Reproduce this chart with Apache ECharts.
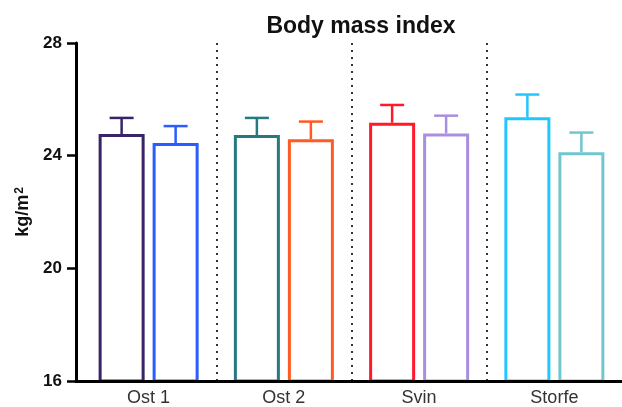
<!DOCTYPE html>
<html>
<head>
<meta charset="utf-8">
<script src="https://cdn.jsdelivr.net/npm/echarts@6/dist/echarts.min.js"></script>
<style>html,body{margin:0;padding:0;background:#fff;}#c{width:622px;height:407px;}</style>
</head>
<body>
<div id="c"></div>
<script>
var categories = ['Ost 1', 'Ost 2', 'Svin', 'Storfe'];
var meansA = [24.77, 24.73, 25.17, 25.36];
var errA = [25.34, 25.34, 25.80, 26.17];
var meansB = [24.45, 24.58, 24.79, 24.12];
var errB = [25.05, 25.21, 25.42, 24.82];
var colorsA = ['#3a2468', '#26797e', '#ff1a2a', '#22c6ff'];
var colorsB = ['#2a5cff', '#ff5a22', '#a98ee0', '#72c6d0'];
var yTicks = [16, 20, 24, 28];

var BAR_W = 46, GAP = 8;
var OFF = (BAR_W + GAP) / 2;
var FONT = 'Liberation Sans, Arial, sans-serif';

function barData(means, colors) {
  return means.map(function (v, i) {
    return { value: v, itemStyle: { color: '#fff', borderColor: colors[i], borderWidth: 3 } };
  });
}
function errData(means, errs) {
  return means.map(function (v, i) { return [i, v, errs[i]]; });
}
function errSeries(means, errs, colors, sign) {
  return {
    type: 'custom',
    data: errData(means, errs),
    z: 1,
    renderItem: function (params, api) {
      var i = api.value(0);
      var p0 = api.coord([i, api.value(1)]);
      var p1 = api.coord([i, api.value(2)]);
      var x = p0[0] + sign * OFF;
      var col = colors[i];
      var st = { stroke: col, lineWidth: 2.5, fill: null };
      return {
        type: 'group',
        children: [
          { type: 'line', shape: { x1: x, y1: p0[1], x2: x, y2: p1[1] }, style: st },
          { type: 'line', shape: { x1: x - 12, y1: p1[1], x2: x + 12, y2: p1[1] }, style: st }
        ]
      };
    }
  };
}

var chart = echarts.init(document.getElementById('c'), null, { renderer: 'canvas' });
chart.setOption({
  animation: false,
  backgroundColor: '#fff',
  title: {
    text: 'Body mass index',
    left: 356, top: 10, textAlign: 'center',
    textStyle: { fontFamily: FONT, fontWeight: 'bold', fontSize: 23, color: '#111' }
  },
  grid: [
    { left: 81, right: -1, top: 43, bottom: 26, containLabel: false },
    { left: 76, right: -1, top: 43, bottom: 26, containLabel: false }
  ],
  xAxis: [{
    type: 'category',
    gridIndex: 0,
    data: categories,
    boundaryGap: true,
    axisLine: { lineStyle: { color: '#000', width: 3 } },
    axisTick: { show: false },
    axisLabel: { color: '#333', fontSize: 18, fontFamily: FONT, margin: 8 },
    splitLine: {
      show: true,
      showMinLine: false,
      showMaxLine: false,
      lineStyle: { color: '#333', type: [2, 5], width: 2 }
    },
    z: 3
  }, {
    type: 'value',
    gridIndex: 1,
    min: 0, max: 1,
    axisLine: { show: true, lineStyle: { color: '#000', width: 3 } },
    axisTick: { show: false },
    axisLabel: { show: false },
    splitLine: { show: false },
    z: 3
  }],
  yAxis: [{
    type: 'value',
    gridIndex: 0,
    min: yTicks[0], max: yTicks[yTicks.length - 1], interval: 4,
    offset: 5,
    name: 'kg/m{sup|2}',
    nameLocation: 'middle',
    nameGap: 38,
    nameRotate: 90,
    nameTextStyle: {
      fontFamily: FONT, fontWeight: 'bold', fontSize: 18, color: '#111',
      rich: { sup: { fontFamily: FONT, fontWeight: 'bold', fontSize: 12, color: '#111', verticalAlign: 'top', padding: [0, 0, 8, 1] } }
    },
    axisLine: { show: true, lineStyle: { color: '#000', width: 3 } },
    axisTick: { show: true, length: 9, lineStyle: { color: '#000', width: 2.5 } },
    axisLabel: { color: '#111', fontWeight: 'bold', fontSize: 17, fontFamily: FONT, margin: 14 },
    splitLine: { show: false }
  }, {
    type: 'value',
    gridIndex: 1,
    show: false
  }],
  series: [
    { type: 'bar', data: barData(meansA, colorsA), barWidth: BAR_W, barGap: (GAP / BAR_W * 100) + '%', z: 2 },
    { type: 'bar', data: barData(meansB, colorsB), barWidth: BAR_W, z: 2 },
    errSeries(meansA, errA, colorsA, -1),
    errSeries(meansB, errB, colorsB, 1)
  ]
});
</script>
</body>
</html>
